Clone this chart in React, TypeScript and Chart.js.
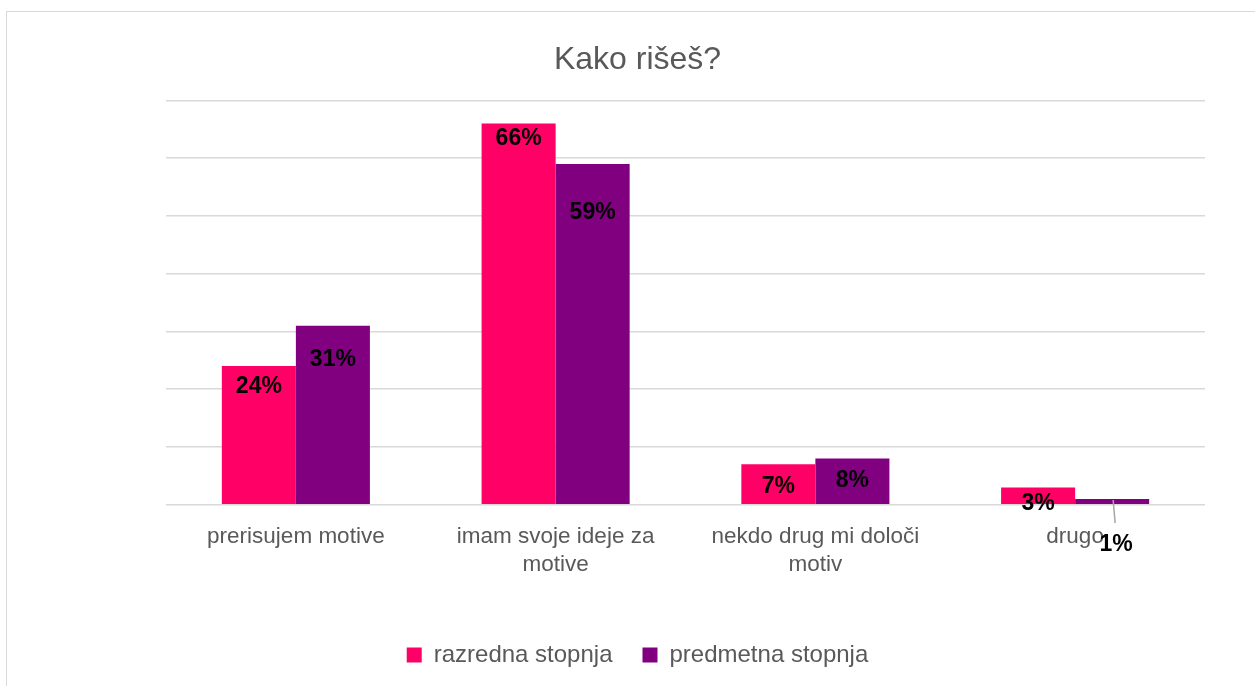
import React, { useEffect, useRef } from "react";
import { Chart, registerables } from "chart.js";

Chart.register(...registerables);

const categories: (string | string[])[] = [
  "prerisujem motive",
  ["imam svoje ideje za", "motive"],
  ["nekdo drug mi določi", "motiv"],
  "drugo",
];
const razredna: number[] = [24, 66, 7, 3];
const predmetna: number[] = [31, 59, 8, 1];
const seriesNames: string[] = ["razredna stopnja", "predmetna stopnja"];
const yTicks: number[] = [0, 10, 20, 30, 40, 50, 60, 70];

// label nudges (px below bar top) and leader-line flags
const labelOffsets: number[][] = [
  [21, 15, 22, 16],
  [34, 49, 22, 46],
];
const labelLeaders: boolean[][] = [
  [false, false, false, false],
  [false, false, false, true],
];

const FONT = "'Liberation Sans', Arial, sans-serif";

const borderPlugin = {
  id: "outerBorder",
  beforeDraw(chart: any) {
    const ctx = chart.ctx;
    ctx.save();
    ctx.fillStyle = "#ffffff";
    ctx.fillRect(0, 0, chart.width, chart.height);
    ctx.strokeStyle = "#d9d9d9";
    ctx.lineWidth = 1;
    ctx.strokeRect(6.5, 11.5, chart.width + 20, chart.height + 20);
    ctx.restore();
  },
};

const labelPlugin = {
  id: "barLabels",
  afterDatasetsDraw(chart: any) {
    const ctx = chart.ctx;
    ctx.save();
    ctx.font = `bold 23px ${FONT}`;
    ctx.fillStyle = "#000000";
    ctx.textAlign = "center";
    ctx.textBaseline = "middle";
    chart.data.datasets.forEach((ds: any, di: number) => {
      const meta = chart.getDatasetMeta(di);
      meta.data.forEach((bar: any, i: number) => {
        const v = ds.data[i];
        const off = labelOffsets[di][i];
        const y = bar.y + off;
        if (labelLeaders[di][i]) {
          ctx.save();
          ctx.strokeStyle = "#a6a6a6";
          ctx.lineWidth = 1.5;
          ctx.beginPath();
          ctx.moveTo(bar.x + 1, bar.y + 1);
          ctx.lineTo(bar.x + 3, y - 22);
          ctx.stroke();
          ctx.restore();
          ctx.fillText(`${v}%`, bar.x + 4, y);
        } else {
          ctx.fillText(`${v}%`, bar.x, y);
        }
      });
    });
    ctx.restore();
  },
};

export default function App() {
  const ref = useRef<HTMLCanvasElement | null>(null);
  useEffect(() => {
    if (!ref.current) return;
    const chart = new Chart(ref.current, {
      type: "bar",
      data: {
        labels: categories,
        datasets: [
          {
            label: seriesNames[0],
            data: razredna,
            backgroundColor: "#ff0066",
            categoryPercentage: 0.57,
            barPercentage: 1,
          },
          {
            label: seriesNames[1],
            data: predmetna,
            backgroundColor: "#800080",
            categoryPercentage: 0.57,
            barPercentage: 1,
          },
        ],
      },
      options: {
        responsive: false,
        animation: false,
        devicePixelRatio: 1,
        layout: { padding: { left: 70, right: 50, top: 0, bottom: 9 } },
        plugins: {
          title: {
            display: true,
            text: "Kako rišeš?",
            color: "#595959",
            font: { family: FONT, size: 32, weight: "normal" },
            padding: { top: 41, bottom: 21 },
          },
          legend: {
            display: true,
            position: "bottom",
            labels: {
              color: "#595959",
              font: { family: FONT, size: 24 },
              boxWidth: 15,
              boxHeight: 15,
              padding: 30,
            },
          },
          tooltip: { enabled: false },
        },
        scales: {
          x: {
            grid: { display: false },
            border: { display: false },
            afterFit: (axis: any) => {
              axis.height = axis.height + 24;
            },
            ticks: {
              color: "#595959",
              font: { family: FONT, size: 22.5, lineHeight: 1.25 },
              padding: 10,
              maxRotation: 0,
              autoSkip: false,
            },
          },
          y: {
            min: 0,
            max: 70,
            afterBuildTicks: (axis: any) => {
              axis.ticks = yTicks.map((v) => ({ value: v }));
            },
            afterFit: (axis: any) => {
              axis.width = 96;
            },
            grid: { color: "#d9d9d9", lineWidth: 1.5, drawTicks: false },
            border: { display: false },
            ticks: { display: false },
          },
        },
      },
      plugins: [borderPlugin, labelPlugin],
    });
    return () => chart.destroy();
  }, []);
  return (
    <div style={{ position: "fixed", left: 0, top: 0, width: 1255, height: 686 }}>
      <canvas ref={ref} width={1255} height={686} style={{ display: "block" }} />
    </div>
  );
}
